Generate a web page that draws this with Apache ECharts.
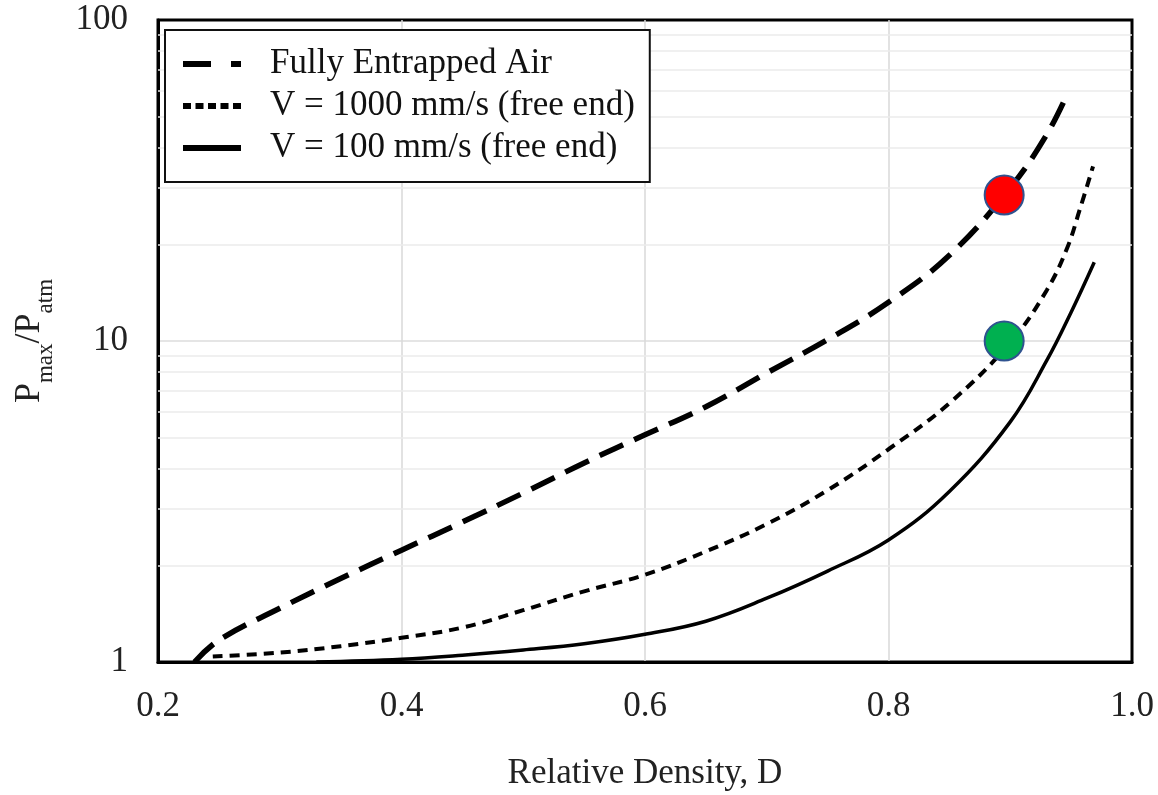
<!DOCTYPE html>
<html>
<head>
<meta charset="utf-8">
<script src="https://cdn.jsdelivr.net/npm/echarts@6/dist/echarts.min.js"></script>
<style>
  html, body { margin: 0; padding: 0; background: #fff; }
  #chart { width: 1158px; height: 795px; }
</style>
</head>
<body>
<div id="chart"></div>
<script>
// series names
const seriesNames = ['Fully Entrapped Air', 'V = 1000 mm/s (free end)', 'V = 100 mm/s (free end)'];

// fully entrapped air (long dashes)
const entrappedD = [0.23, 0.25, 0.30, 0.35, 0.40, 0.45, 0.50, 0.55, 0.60, 0.65, 0.70, 0.75, 0.80, 0.85, 0.90, 0.93, 0.947];
const entrappedP = [1.0, 1.17, 1.47, 1.82, 2.23, 2.73, 3.36, 4.17, 5.1, 6.24, 7.95, 10.1, 13.2, 18.5, 30, 44, 59];

// V = 1000 mm/s (short dashes)
const fastD = [0.245, 0.30, 0.35, 0.40, 0.45, 0.50, 0.55, 0.60, 0.65, 0.70, 0.75, 0.80, 0.85, 0.90, 0.93, 0.947, 0.957, 0.968];
const fastP = [1.04, 1.07, 1.12, 1.19, 1.28, 1.45, 1.66, 1.87, 2.21, 2.69, 3.43, 4.6, 6.4, 9.9, 14.4, 19.6, 25.6, 35];

// V = 100 mm/s (solid)
const slowD = [0.33, 0.40, 0.45, 0.50, 0.55, 0.60, 0.65, 0.70, 0.75, 0.80, 0.85, 0.90, 0.93, 0.95, 0.969];
const slowP = [1.0, 1.02, 1.05, 1.09, 1.14, 1.22, 1.34, 1.58, 1.92, 2.4, 3.4, 5.6, 8.7, 12.3, 17.6];

// the two marked points
const markD = [0.895, 0.895];
const markP = [28.5, 10];
const markColors = ['#ff0000', '#00b050'];

// axis ticks
const xTicks = [0.2, 0.4, 0.6, 0.8, 1.0];
const yMinorGrid = [2, 3, 4, 5, 6, 7, 8, 9, 20, 30, 40, 50, 60, 70, 80, 90];

const serif = '"Liberation Serif", "Times New Roman", serif';
const pairs = (xs, ys) => xs.map((x, i) => [x, ys[i]]);

// legend icons drawn as little bars: long dash + dot, dots, solid
const iconDashDot = 'path://M0,0H28V6H0Z M48,0H58V6H48Z';
const iconDots = 'path://M0,0H8V6H0Z M12.5,0H20.5V6H12.5Z M25,0H33V6H25Z M37.5,0H45.5V6H37.5Z M50,0H58V6H50Z';
const iconSolid = 'path://M0,0H58V6H0Z';

const chart = echarts.init(document.getElementById('chart'));

const option = {
  backgroundColor: '#fff',
  animation: false,
  grid: {
    left: 158, right: 26, top: 20, bottom: 133,
    containLabel: false,
    outerBoundsMode: 'none',
    show: true,
    borderColor: '#000',
    borderWidth: 3,
    backgroundColor: 'transparent'
  },
  legend: {
    orient: 'vertical',
    left: 165,
    top: 30,
    padding: [16, 15, 16, 18],
    itemGap: 6,
    itemWidth: 58,
    itemHeight: 6,
    backgroundColor: '#fff',
    borderColor: '#111',
    borderWidth: 2,
    itemStyle: { color: '#000' },
    textStyle: {
      fontFamily: serif,
      fontSize: 35,
      color: '#111',
      lineHeight: 36,
      padding: [0, 0, 0, 24]
    },
    data: [
      { name: seriesNames[0], icon: iconDashDot },
      { name: seriesNames[1], icon: iconDots },
      { name: seriesNames[2], icon: iconSolid }
    ]
  },
  xAxis: {
    type: 'value',
    min: xTicks[0],
    max: xTicks[xTicks.length - 1],
    interval: 0.2,
    name: 'Relative Density, D',
    nameLocation: 'middle',
    nameGap: 94,
    nameTextStyle: { fontFamily: serif, fontSize: 35, color: '#222' },
    axisLine: { show: true, lineStyle: { color: '#000', width: 3 } },
    axisTick: { show: false },
    axisLabel: {
      margin: 27,
      fontFamily: serif,
      fontSize: 35,
      color: '#222',
      formatter: v => v.toFixed(1)
    },
    splitLine: {
      show: true,
      showMinLine: false,
      showMaxLine: false,
      lineStyle: { color: '#d9d9d9', width: 1.5 }
    }
  },
  yAxis: {
    type: 'log',
    logBase: 10,
    min: 1,
    max: 100,
    name: '{p|P}{s|max}{p|/P}{s|atm}',
    nameLocation: 'middle',
    nameGap: 79,
    nameTextStyle: {
      fontFamily: serif,
      color: '#222',
      rich: {
        p: { fontFamily: serif, fontSize: 36, color: '#222', lineHeight: 36, verticalAlign: 'top' },
        s: { fontFamily: serif, fontSize: 23, color: '#222', lineHeight: 67, verticalAlign: 'middle' }
      }
    },
    axisLine: { show: true, lineStyle: { color: '#000', width: 3 } },
    axisTick: { show: false },
    axisLabel: {
      margin: 30,
      fontFamily: serif,
      fontSize: 35,
      color: '#222'
    },
    splitLine: {
      show: true,
      showMinLine: false,
      showMaxLine: false,
      lineStyle: { color: '#dcdcdc', width: 1.5 }
    }
  },
  series: [
    {
      name: seriesNames[0],
      type: 'line',
      symbol: 'none',
      smooth: 0.4,
      data: pairs(entrappedD, entrappedP),
      itemStyle: { color: '#000' },
      lineStyle: { color: '#000', width: 5.5, type: [26, 12] },
      z: 3
    },
    {
      name: seriesNames[1],
      type: 'line',
      symbol: 'none',
      smooth: 0.4,
      data: pairs(fastD, fastP),
      itemStyle: { color: '#000' },
      lineStyle: { color: '#000', width: 4, type: [10, 7] },
      z: 3
    },
    {
      name: seriesNames[2],
      type: 'line',
      symbol: 'none',
      smooth: 0.4,
      data: pairs(slowD, slowP),
      itemStyle: { color: '#000' },
      lineStyle: { color: '#000', width: 3.5, type: 'solid' },
      z: 3,
      markLine: {
        silent: true,
        symbol: ['none', 'none'],
        z: 1,
        label: { show: false },
        lineStyle: { color: '#ebebeb', width: 1.5, type: 'solid' },
        data: yMinorGrid.map(v => ({ yAxis: v }))
      }
    },
    {
      name: 'marks',
      type: 'scatter',
      symbolSize: 39,
      z: 5,
      data: markD.map((d, i) => ({
        value: [d, markP[i]],
        itemStyle: { color: markColors[i], opacity: 1, borderColor: '#2f528f', borderWidth: 2 }
      }))
    }
  ]
};

chart.setOption(option);
</script>
</body>
</html>
